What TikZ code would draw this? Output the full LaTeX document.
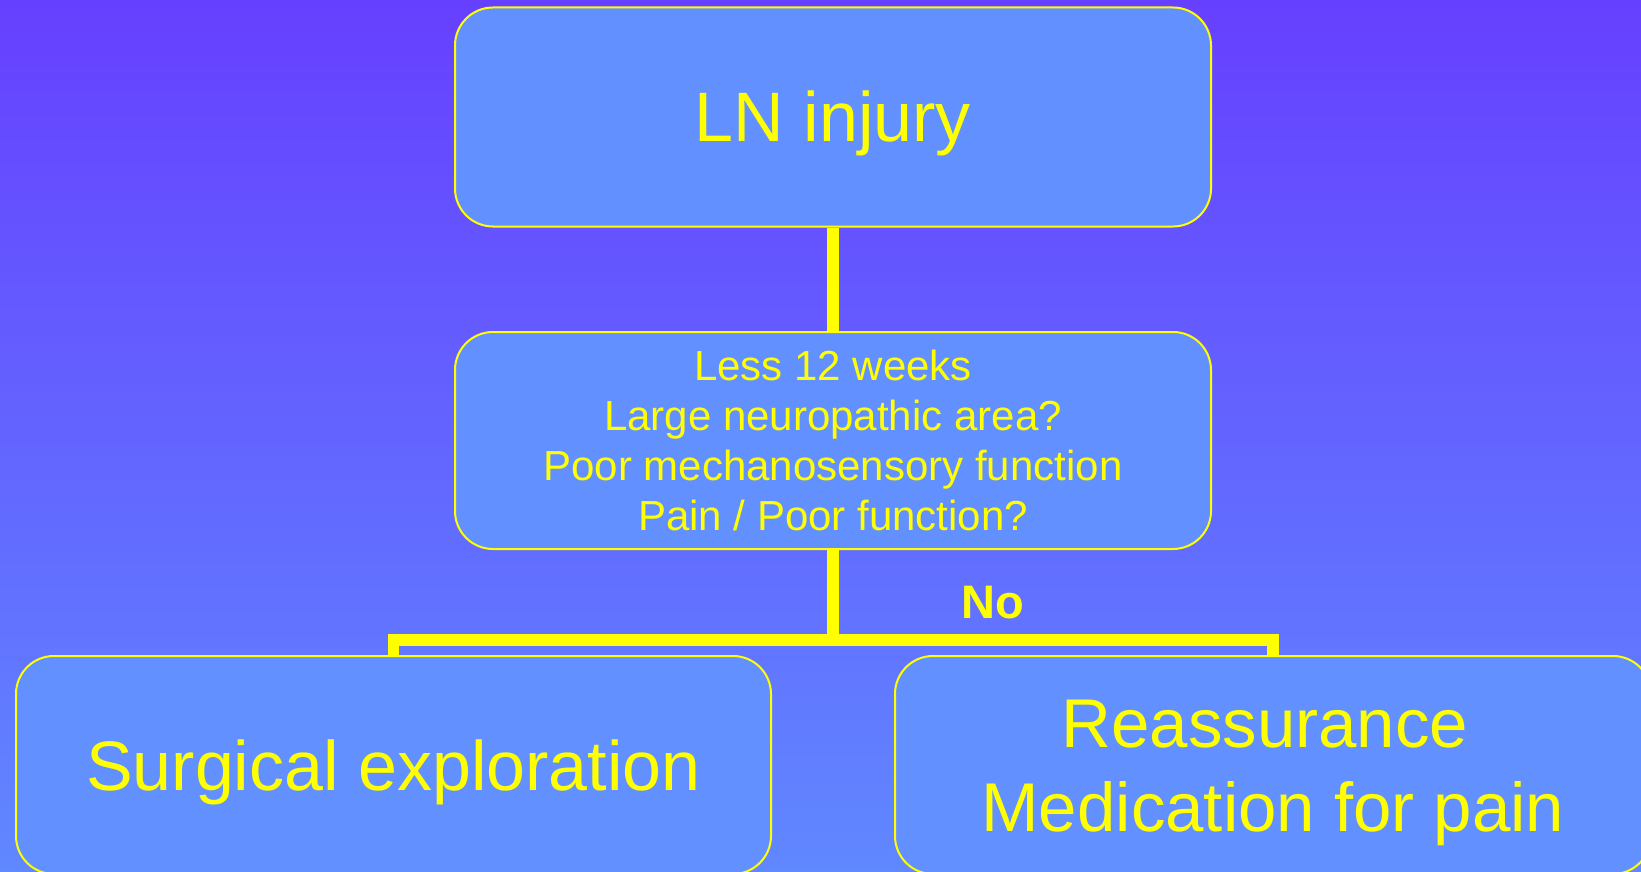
\documentclass[tikz,border=0pt]{standalone}
\usepackage{fontspec}
\setmainfont{Liberation Sans}
\definecolor{bgtop}{RGB}{102,64,255}
\definecolor{bgbot}{RGB}{96,136,255}
\definecolor{boxfill}{RGB}{98,144,255}
\definecolor{lineyel}{RGB}{255,255,0}
\tikzset{
  flowbox/.style={draw=lineyel, line width=2pt, fill=boxfill, rounded corners=38pt,
    inner sep=0pt, text=lineyel, align=center},
  conn/.style={draw=lineyel, line width=11.5pt, line join=miter, line cap=butt},
}
\begin{document}
\begin{tikzpicture}[x=1pt,y=-1pt]
\useasboundingbox (0,0) rectangle (1641,872);
\clip (0,0) rectangle (1641,872);
\shade[top color=bgtop, bottom color=bgbot] (0,0) rectangle (1641,872);
\node[flowbox, minimum width=756pt, minimum height=219pt, text height=50pt, text depth=0pt,
  font=\fontsize{70}{84}\selectfont] (top) at (833,117) {LN injury};
\node[flowbox, minimum width=756pt, minimum height=217pt, text height=180pt, text depth=0pt,
  font=\fontsize{42}{50}\selectfont] (mid) at (833,440.5)
  {Less 12 weeks\\Large neuropathic area?\\Poor mechanosensory function\\Pain / Poor function?};
\draw[conn] (top.south) -- (mid.north);
\coordinate (bar) at (833,640);
\node[flowbox, minimum width=755pt, minimum height=218pt, text height=50pt, text depth=0pt,
  font=\fontsize{70}{84}\selectfont] (left) at (393.5,765) {Surgical exploration};
\node[flowbox, minimum width=756pt, minimum height=218pt, text height=133pt, text depth=0pt,
  font=\fontsize{69}{84}\selectfont] (right) at (1273,765)
  {Reassurance\hspace*{16pt}\\Medication for pain};
\draw[conn] (mid.south) -- (bar);
\draw[conn] (left.north) -- (left.north |- bar) -- (right.north |- bar) -- (right.north);
\node[text=lineyel, font=\fontsize{47}{56}\selectfont\bfseries, inner sep=0pt, anchor=base]
  (no) at (993,618) {No};
\end{tikzpicture}
\end{document}
